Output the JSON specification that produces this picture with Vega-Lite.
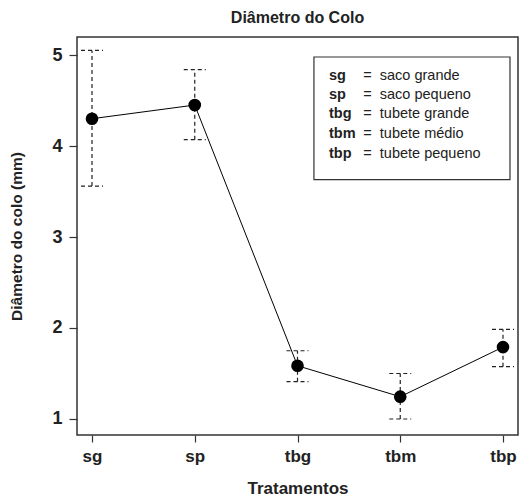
{
  "$schema": "https://vega.github.io/schema/vega-lite/v6.json",
  "width": 441,
  "height": 398,
  "autosize": {"type": "none"},
  "padding": {"left": 77, "top": 37, "right": 9, "bottom": 63},
  "background": "white",
  "title": {"text": "Diâmetro do Colo", "font": "Liberation Sans", "fontSize": 16, "fontWeight": "bold", "anchor": "middle", "offset": 11, "color": "#222"},
  "config": {
    "view": {"stroke": "#333", "strokeWidth": 1.5},
    "font": "Liberation Sans",
    "axis": {"grid": false, "domain": false, "tickColor": "#333", "tickWidth": 1.2, "labelColor": "#222", "titleColor": "#222", "labelFont": "Liberation Sans", "titleFont": "Liberation Sans", "labelFontWeight": "bold", "titleFontWeight": "bold"}
  },
  "datasets": {
    "medias": [
      {"trat": "sg", "idx": 1, "media": 4.30, "inf": 3.56, "sup": 5.05},
      {"trat": "sp", "idx": 2, "media": 4.45, "inf": 4.07, "sup": 4.84},
      {"trat": "tbg", "idx": 3, "media": 1.585, "inf": 1.41, "sup": 1.75},
      {"trat": "tbm", "idx": 4, "media": 1.245, "inf": 1.0, "sup": 1.5},
      {"trat": "tbp", "idx": 5, "media": 1.79, "inf": 1.575, "sup": 1.985}
    ],
    "caixa": [{"xa": 3.16, "xb": 5.068, "ya": 4.978, "yb": 3.63}],
    "legenda": [
      {"abrev": "sg", "desc": "=\u00a0\u00a0saco grande", "lx": 3.306, "dx": 3.64, "ly": 4.769},
      {"abrev": "sp", "desc": "=\u00a0\u00a0saco pequeno", "lx": 3.306, "dx": 3.64, "ly": 4.56},
      {"abrev": "tbg", "desc": "=\u00a0\u00a0tubete grande", "lx": 3.306, "dx": 3.64, "ly": 4.352},
      {"abrev": "tbm", "desc": "=\u00a0\u00a0tubete médio", "lx": 3.306, "dx": 3.64, "ly": 4.132},
      {"abrev": "tbp", "desc": "=\u00a0\u00a0tubete pequeno", "lx": 3.306, "dx": 3.64, "ly": 3.912}
    ]
  },
  "layer": [
    {
      "data": {"name": "medias"},
      "mark": {"type": "rule", "strokeDash": [4, 3], "strokeWidth": 1.2, "color": "#222"},
      "encoding": {
        "x": {"field": "idx", "type": "quantitative", "scale": {"domain": [0.854, 5.146], "nice": false, "zero": false},
          "axis": {"values": [1, 2, 3, 4, 5], "labelExpr": "['', 'sg', 'sp', 'tbg', 'tbm', 'tbp'][datum.value]", "tickSize": 7, "labelFontSize": 17, "labelPadding": 6, "title": "Tratamentos", "titleFontSize": 17, "titlePadding": 16}},
        "y": {"field": "inf", "type": "quantitative", "scale": {"domain": [0.824, 5.198], "nice": false, "zero": false},
          "axis": {"values": [1, 2, 3, 4, 5], "format": "d", "tickSize": 8, "labelFontSize": 18, "labelPadding": 7, "title": "Diâmetro do colo (mm)", "titleFontSize": 15.5, "titlePadding": 27}},
        "y2": {"field": "sup"}
      }
    },
    {
      "data": {"name": "medias"},
      "mark": {"type": "rule", "strokeDash": [4, 3], "strokeWidth": 1.2, "color": "#222", "xOffset": -11, "x2Offset": 11},
      "encoding": {
        "x": {"field": "idx", "type": "quantitative"},
        "x2": {"field": "idx"},
        "y": {"field": "inf", "type": "quantitative"}
      }
    },
    {
      "data": {"name": "medias"},
      "mark": {"type": "rule", "strokeDash": [4, 3], "strokeWidth": 1.2, "color": "#222", "xOffset": -11, "x2Offset": 11},
      "encoding": {
        "x": {"field": "idx", "type": "quantitative"},
        "x2": {"field": "idx"},
        "y": {"field": "sup", "type": "quantitative"}
      }
    },
    {
      "data": {"name": "medias"},
      "mark": {"type": "line", "color": "black", "strokeWidth": 1},
      "encoding": {
        "x": {"field": "idx", "type": "quantitative"},
        "y": {"field": "media", "type": "quantitative"}
      }
    },
    {
      "data": {"name": "medias"},
      "mark": {"type": "point", "filled": true, "color": "black", "opacity": 1, "size": 160},
      "encoding": {
        "x": {"field": "idx", "type": "quantitative"},
        "y": {"field": "media", "type": "quantitative"}
      }
    },
    {
      "data": {"name": "caixa"},
      "mark": {"type": "rect", "fill": "white", "stroke": "#333", "strokeWidth": 1.2},
      "encoding": {
        "x": {"field": "xa", "type": "quantitative"},
        "x2": {"field": "xb"},
        "y": {"field": "ya", "type": "quantitative"},
        "y2": {"field": "yb"}
      }
    },
    {
      "data": {"name": "legenda"},
      "mark": {"type": "text", "align": "left", "baseline": "middle", "fontWeight": "bold", "fontSize": 14.5, "color": "#222"},
      "encoding": {
        "x": {"field": "lx", "type": "quantitative"},
        "y": {"field": "ly", "type": "quantitative"},
        "text": {"field": "abrev"}
      }
    },
    {
      "data": {"name": "legenda"},
      "mark": {"type": "text", "align": "left", "baseline": "middle", "fontSize": 14.5, "color": "#222"},
      "encoding": {
        "x": {"field": "dx", "type": "quantitative"},
        "y": {"field": "ly", "type": "quantitative"},
        "text": {"field": "desc"}
      }
    }
  ]
}
